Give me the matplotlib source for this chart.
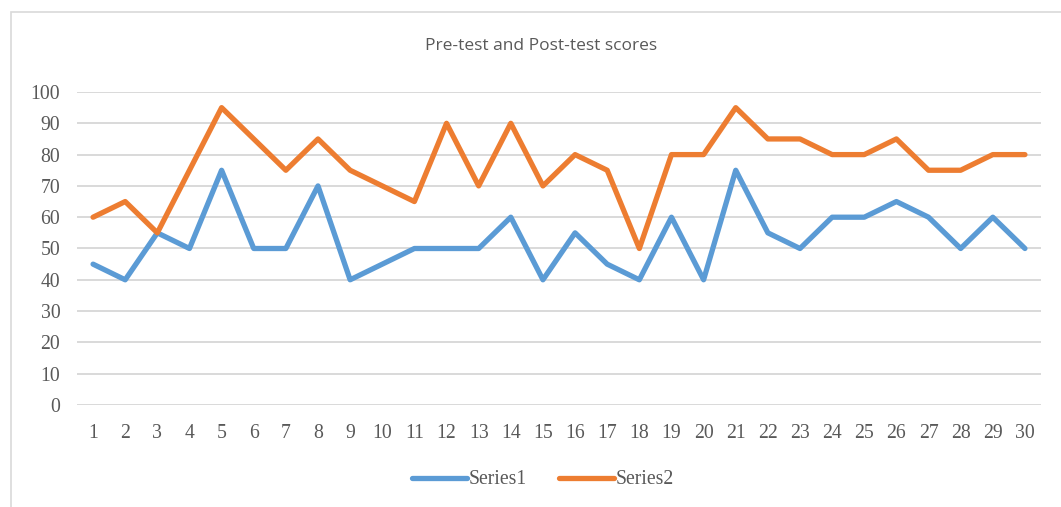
import matplotlib.pyplot as plt
from matplotlib.patches import Rectangle

# Data
students = list(range(1, 31))
series1 = [45, 40, 55, 50, 75, 50, 50, 70, 40, 45,
           50, 50, 50, 60, 40, 55, 45, 40, 60, 40,
           75, 55, 50, 60, 60, 65, 60, 50, 60, 50]
series2 = [60, 65, 55, 75, 95, 85, 75, 85, 75, 70,
           65, 90, 70, 90, 70, 80, 75, 50, 80, 80,
           95, 85, 85, 80, 80, 85, 75, 75, 80, 80]
y_ticks = list(range(0, 101, 10))

W, H = 1061, 507
fig = plt.figure(figsize=(W / 100, H / 100), dpi=100)

# chart area border (runs off the right and bottom edges)
fig.patches.append(Rectangle((11 / W, -0.1), 1.2, 1 - 12 / H + 0.1,
                             transform=fig.transFigure, fill=False,
                             edgecolor='#D9D9D9', linewidth=1.2))

ax = fig.add_axes([77 / W, 1 - 405 / H, (1041 - 77) / W, (405 - 92) / H])

ax.plot(students, series1, color='#5B9BD5', linewidth=3.8, label='Series1',
        solid_joinstyle='round', solid_capstyle='round', zorder=3)
ax.plot(students, series2, color='#ED7D31', linewidth=3.8, label='Series2',
        solid_joinstyle='round', solid_capstyle='round', zorder=3)

ax.set_xlim(0.5, 30.5)
ax.set_ylim(0, 100)
ax.set_yticks(y_ticks)
ax.set_xticks(students)
ax.grid(axis='y', color='#D9D9D9', linewidth=1.4, zorder=0)
for s in ax.spines.values():
    s.set_visible(False)
ax.tick_params(length=0, labelsize=14.2, labelcolor='#595959')
ax.tick_params(axis='y', pad=12)
ax.tick_params(axis='x', pad=14)
for lbl in ax.get_xticklabels() + ax.get_yticklabels():
    lbl.set_family('Liberation Serif')

fig.text(541 / W, 1 - 46 / H, 'Pre-test and Post-test scores',
         ha='center', va='center', fontsize=12.5, color='#595959',
         family='Open Sans')

ax.legend(loc='center', bbox_to_anchor=(543 / W, 1 - 480 / H),
          bbox_transform=fig.transFigure, ncol=2, frameon=False,
          prop={'family': 'Liberation Serif', 'size': 14.2},
          labelcolor='#595959', handlelength=2.8, handletextpad=0.1,
          columnspacing=1.6)

fig.savefig('out.png', dpi=100)
